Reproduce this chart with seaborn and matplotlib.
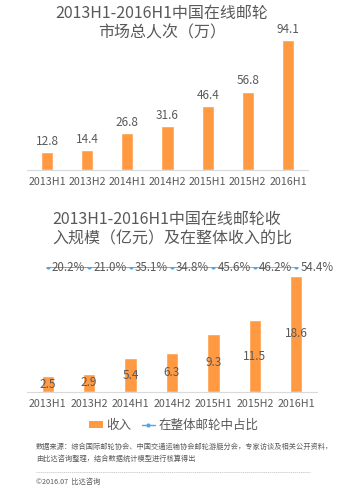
import matplotlib
matplotlib.use("Agg")
import matplotlib.pyplot as plt
import seaborn as sns
import pandas as pd
from matplotlib.lines import Line2D
from matplotlib.patches import Patch

periods = ["2013H1", "2013H2", "2014H1", "2014H2", "2015H1", "2015H2", "2016H1"]
passengers = [12.8, 14.4, 26.8, 31.6, 46.4, 56.8, 94.1]
revenue = [2.5, 2.9, 5.4, 6.3, 9.3, 11.5, 18.6]
share = [20.2, 21.0, 35.1, 34.8, 45.6, 46.2, 54.4]

title1 = "2013H1-2016H1中国在线邮轮\n市场总人次（万）"
title2 = "2013H1-2016H1中国在线邮轮收\n入规模（亿元）及在整体收入的比"
legend_labels = ["收入", "在整体邮轮中占比"]
note1 = "数据来源：综合国际邮轮协会、中国交通运输协会邮轮游艇分会，专家访谈及相关公开资料，"
note2 = "由比达咨询整理，结合数据统计模型进行核算得出"
copyright_txt = "©2016.07  比达咨询"

sns.set_theme(style="white")
plt.rcParams["font.family"] = ["Noto Sans CJK SC", "DejaVu Sans"]

ORANGE = "#FF9A42"
BLUE = "#4AA6EE"
GRAY = "#595959"
W, H = 345, 493

fig = plt.figure(figsize=(W / 100, H / 100), dpi=100)

def fx(px):
    return px / W

def fy(py):
    return 1 - py / H

df1 = pd.DataFrame({"period": periods, "value": passengers})
df2 = pd.DataFrame({"period": periods, "value": revenue, "share": share})

# Chart 1
ax1 = fig.add_axes([fx(27), fy(170), fx(308 - 27), (170 - 32) / H])
sns.barplot(data=df1, x="period", y="value", color=ORANGE, saturation=1,
            width=0.3, ax=ax1)
ax1.set_ylim(0, 100)
ax1.set_xlim(-0.5, 6.5)
for i, v in enumerate(passengers):
    ax1.annotate(f"{v}", (i, v), xytext=(0, 3), textcoords="offset points",
                 ha="center", va="bottom", fontsize=8.5, color=GRAY,
                 annotation_clip=False)
ax1.set_xlabel("")
ax1.set_ylabel("")
ax1.set_yticks([])
ax1.tick_params(axis="x", length=0, labelsize=7.7, labelcolor=GRAY, pad=5)
for s in ["top", "right", "left"]:
    ax1.spines[s].set_visible(False)
ax1.spines["bottom"].set_color("#D9D9D9")
ax1.spines["bottom"].set_linewidth(0.8)

fig.text(fx(162), fy(23), title1, ha="center", va="center", fontsize=11.5,
         color=GRAY, linespacing=1.15)

# Chart 2
ax2 = fig.add_axes([fx(27), fy(392), fx(317 - 27), (392 - 267) / H])
sns.barplot(data=df2, x="period", y="value", color=ORANGE, saturation=1,
            width=0.3, ax=ax2)
ax2.set_ylim(0, 20)
ax2.set_xlim(-0.5, 6.5)
for i, v in enumerate(revenue):
    ax2.text(i, v / 2, f"{v}", ha="center", va="center", fontsize=8.5,
             color=GRAY)
ax2.set_xlabel("")
ax2.set_ylabel("")
ax2.set_yticks([])
ax2.tick_params(axis="x", length=0, labelsize=7.7, labelcolor=GRAY, pad=5)
for s in ["top", "right", "left"]:
    ax2.spines[s].set_visible(False)
ax2.spines["bottom"].set_color("#D9D9D9")
ax2.spines["bottom"].set_linewidth(0.8)

ax3 = ax2.twinx()
df2["pos"] = range(len(periods))
sns.lineplot(data=df2, x="pos", y="share", color=BLUE, marker="o",
             markersize=3, markeredgewidth=0, linewidth=1, ax=ax3)
ax3.set_ylim(-20000, 60)
ax3.set_xlim(-0.5, 6.5)
ax3.set_yticks([])
ax3.set_ylabel("")
ax3.set_xlabel("")
for s in ["top", "right", "left", "bottom"]:
    ax3.spines[s].set_visible(False)
for i, v in enumerate(share):
    ax3.annotate(f"{v:.1f}%", (i, v), xytext=(3, 0), textcoords="offset points",
                 ha="left", va="center", fontsize=8.3, color=GRAY,
                 annotation_clip=False)

fig.text(fx(52), fy(229), title2, ha="left", va="center", fontsize=11.5,
         color=GRAY, linespacing=1.15)

handles = [Patch(facecolor=ORANGE, edgecolor="none"),
           Line2D([0], [0], color=BLUE, marker="o", markersize=3,
                  markeredgewidth=0, linewidth=1)]
fig.legend(handles, legend_labels, loc="center",
           bbox_to_anchor=(fx(174), fy(425)), ncol=2, frameon=False,
           fontsize=9, labelcolor=GRAY, handlelength=1.1, handleheight=0.5,
           handletextpad=0.3, columnspacing=0.8)

fig.text(fx(36), fy(447), note1, ha="left", va="center", fontsize=5.2,
         color="#595959")
fig.text(fx(36), fy(459), note2, ha="left", va="center", fontsize=5.2,
         color="#595959")
fig.add_artist(Line2D([fx(36), fx(310)], [fy(472), fy(472)],
                      color="#BFBFBF", linewidth=0.5, linestyle=(0, (2, 1))))
fig.text(fx(36), fy(482), copyright_txt, ha="left", va="center",
         fontsize=5.2, color="#595959")

fig.savefig("out.png", dpi=100)
